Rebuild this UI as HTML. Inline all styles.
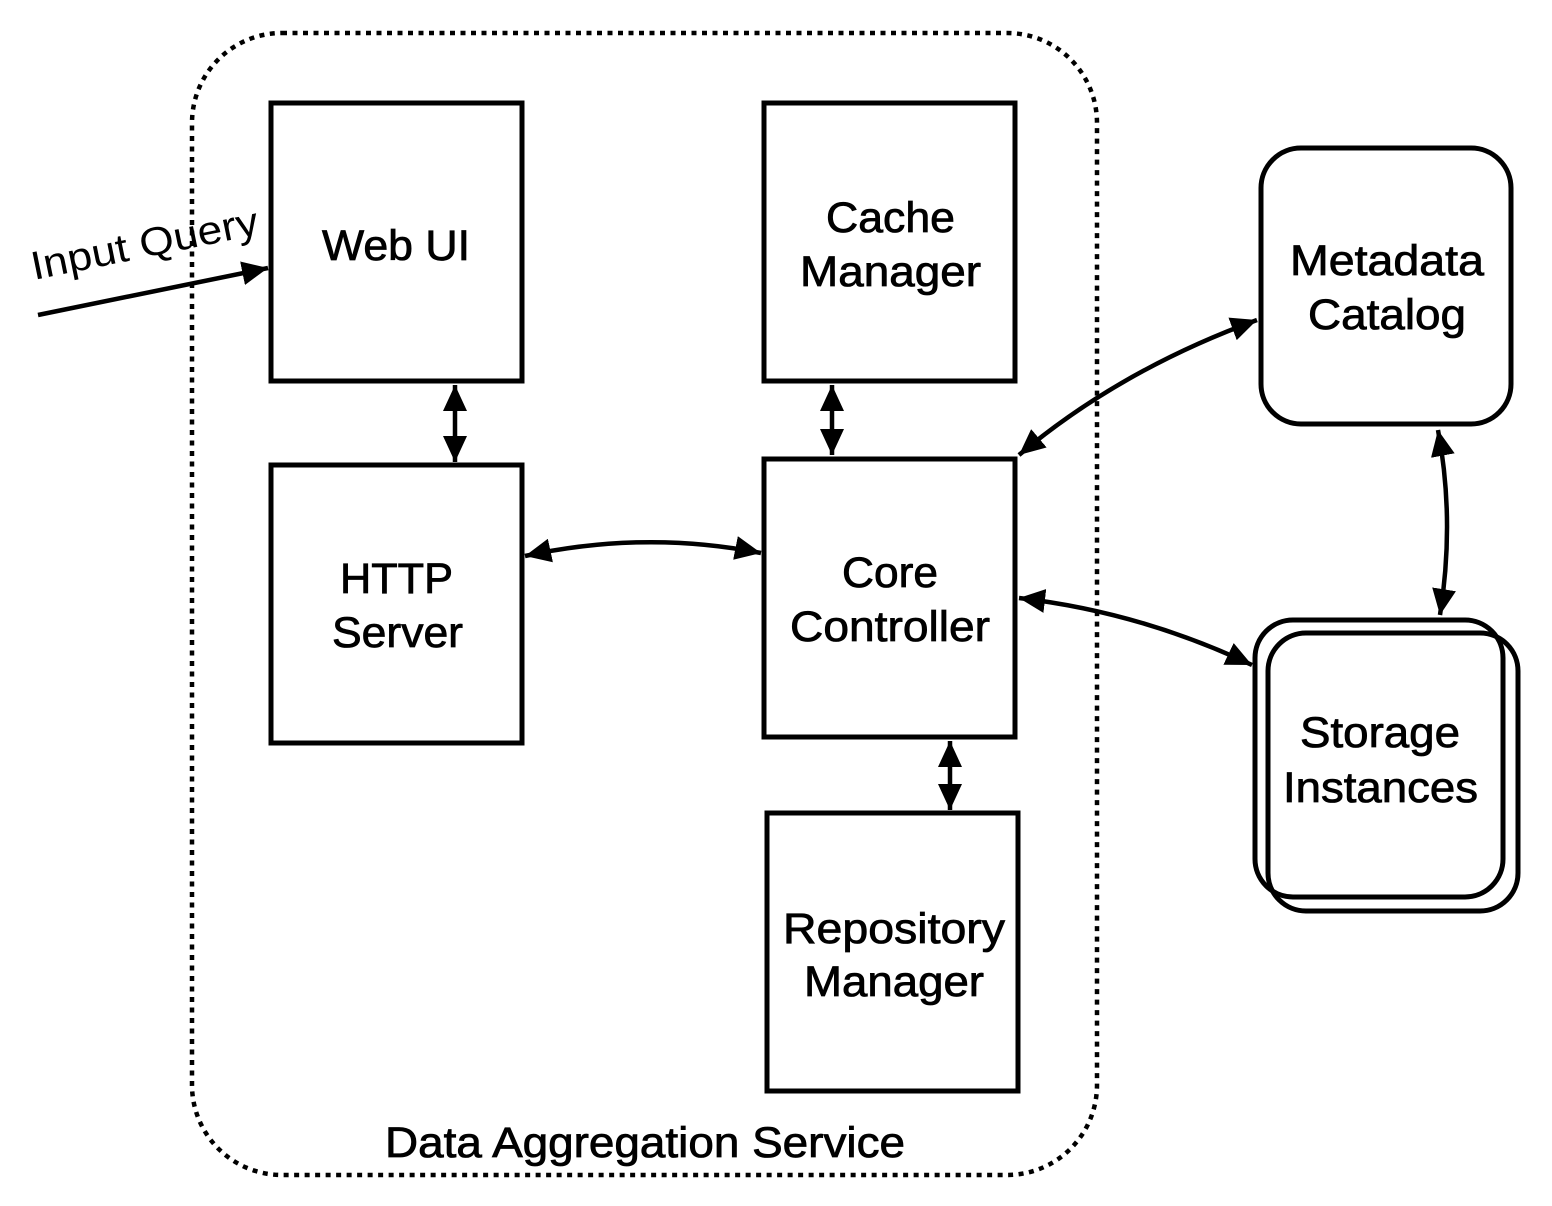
<!DOCTYPE html>
<html><head><meta charset="utf-8"><style>
html,body{margin:0;padding:0;background:#fff;}
svg{display:block;}
text{font-family:"Liberation Sans",Arial,sans-serif;fill:#000;}
</style></head><body>
<svg width="1552" height="1206" viewBox="0 0 1552 1206" xmlns="http://www.w3.org/2000/svg">
<defs>
<marker id="a" markerUnits="userSpaceOnUse" markerWidth="28" markerHeight="24" refX="26" refY="12" orient="auto-start-reverse">
<path d="M0,0 L26,12 L0,24 Z" fill="#000"/>
</marker>
</defs>
<rect x="192" y="33" width="905" height="1142" rx="90" ry="90" fill="none" stroke="#000" stroke-width="4.5" stroke-dasharray="5 5.5"/>
<g fill="#fff" stroke="#000" stroke-width="5">
<rect x="271" y="103" width="251" height="278"/>
<rect x="271" y="465" width="251" height="278"/>
<rect x="764" y="103" width="251" height="278"/>
<rect x="764" y="459" width="251" height="278"/>
<rect x="767" y="813" width="251" height="278"/>
<rect x="1261" y="148" width="250" height="276" rx="40" ry="40"/>
</g>
<g fill="none" stroke="#000" stroke-width="5">
<rect x="1268" y="633" width="250" height="278" rx="38" ry="38"/>
<rect x="1255" y="620" width="248" height="277" rx="38" ry="38"/>
</g>
<g fill="none" stroke="#000" stroke-width="4.5">
<path d="M38,315 L268,268" marker-end="url(#a)"/>
<path d="M455,385 L455,462" marker-start="url(#a)" marker-end="url(#a)"/>
<path d="M832,385 L832,455" marker-start="url(#a)" marker-end="url(#a)"/>
<path d="M950,741 L950,810" marker-start="url(#a)" marker-end="url(#a)"/>
<path d="M525,556 Q645,530 761,553" marker-start="url(#a)" marker-end="url(#a)"/>
<path d="M1019,455 Q1120,370 1257,320" marker-start="url(#a)" marker-end="url(#a)"/>
<path d="M1019,598 Q1140,612 1252,665" marker-start="url(#a)" marker-end="url(#a)"/>
<path d="M1438,430 Q1455,520 1440,615" marker-start="url(#a)" marker-end="url(#a)"/>
</g>
<g font-size="43" stroke="#000" stroke-width="0.8" lengthAdjust="spacingAndGlyphs">
<text x="322" y="260" textLength="148" lengthAdjust="spacingAndGlyphs">Web UI</text>
<text x="340" y="593" textLength="113" lengthAdjust="spacingAndGlyphs">HTTP</text>
<text x="332" y="647" textLength="131" lengthAdjust="spacingAndGlyphs">Server</text>
<text x="826" y="232" textLength="129" lengthAdjust="spacingAndGlyphs">Cache</text>
<text x="800" y="286" textLength="181" lengthAdjust="spacingAndGlyphs">Manager</text>
<text x="842" y="587" textLength="96" lengthAdjust="spacingAndGlyphs">Core</text>
<text x="790" y="641" textLength="200" lengthAdjust="spacingAndGlyphs">Controller</text>
<text x="783" y="943" textLength="222" lengthAdjust="spacingAndGlyphs">Repository</text>
<text x="804" y="996" textLength="180" lengthAdjust="spacingAndGlyphs">Manager</text>
<text x="1290" y="275" textLength="194" lengthAdjust="spacingAndGlyphs">Metadata</text>
<text x="1308" y="329" textLength="158" lengthAdjust="spacingAndGlyphs">Catalog</text>
<text x="1300" y="747" textLength="160" lengthAdjust="spacingAndGlyphs">Storage</text>
<text x="1283" y="802" textLength="195" lengthAdjust="spacingAndGlyphs">Instances</text>
<text x="385" y="1157" textLength="520" lengthAdjust="spacingAndGlyphs">Data Aggregation Service</text>
</g>
<text x="0" y="0" font-size="40" textLength="231" lengthAdjust="spacingAndGlyphs" transform="translate(34,280) rotate(-11.5)">Input Query</text>
</svg>
</body></html>
